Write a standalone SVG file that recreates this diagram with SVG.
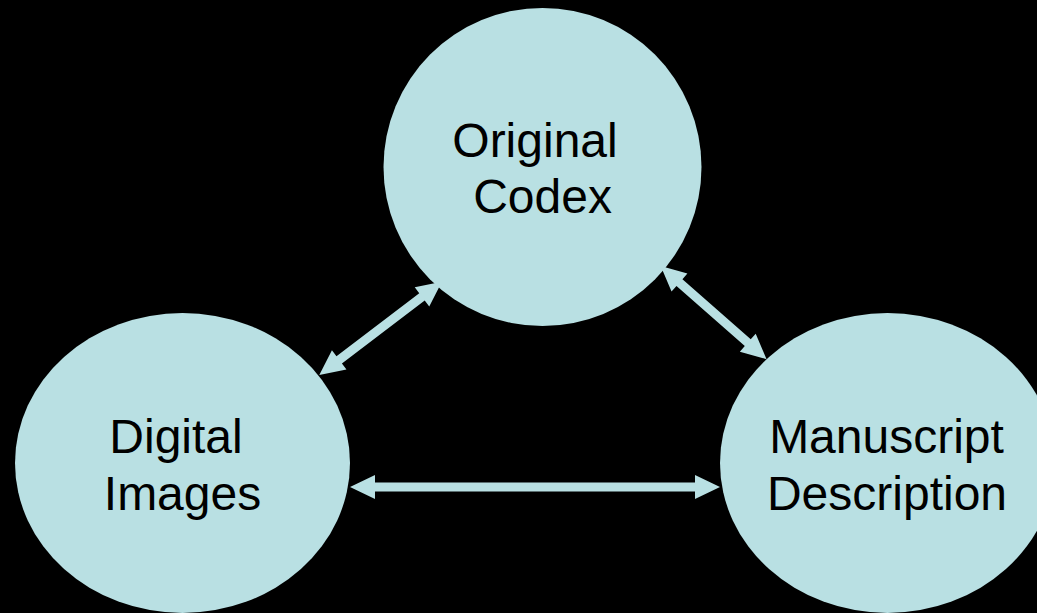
<svg xmlns="http://www.w3.org/2000/svg" width="1037" height="613" viewBox="0 0 1037 613">
<style>
.node{fill:#b9e0e3}
.lbl{font-family:"Liberation Sans",Arial,sans-serif;font-size:48px;fill:#000;text-anchor:middle}
.arr{fill:#b9e0e3}
</style>
<rect x="0" y="0" width="1037" height="613" fill="#000"/>
<g id="connectors">
<path class="arr" transform="translate(350,487)" d="M0,0 L25,-12 L25,-4.5 L345,-4.5 L345,-12 L370,0 L345,12 L345,4.5 L25,4.5 L25,12 Z"/>
<path class="arr" transform="translate(319.3,375) rotate(-37.25)" d="M0,0 L25,-12 L25,-4.5 L129,-4.5 L129,-12 L154,0 L129,12 L129,4.5 L25,4.5 L25,12 Z"/>
<path class="arr" transform="translate(660.7,266) rotate(41.35)" d="M0,0 L25,-12 L25,-4.5 L116,-4.5 L116,-12 L141,0 L116,12 L116,4.5 L25,4.5 L25,12 Z"/>
</g>
<g id="original-codex">
<circle class="node" cx="542.5" cy="167" r="159"/>
<text class="lbl" x="535" y="157">Original</text>
<text class="lbl" x="542.5" y="213">Codex</text>
</g>
<g id="digital-images">
<ellipse class="node" cx="182.5" cy="463" rx="167.5" ry="150"/>
<text class="lbl" x="176" y="453">Digital</text>
<text class="lbl" x="182.5" y="510">Images</text>
</g>
<g id="manuscript-description">
<ellipse class="node" cx="887.5" cy="463" rx="167.5" ry="150"/>
<text class="lbl" x="886.5" y="453">Manuscript</text>
<text class="lbl" x="887" y="510">Description</text>
</g>
</svg>
